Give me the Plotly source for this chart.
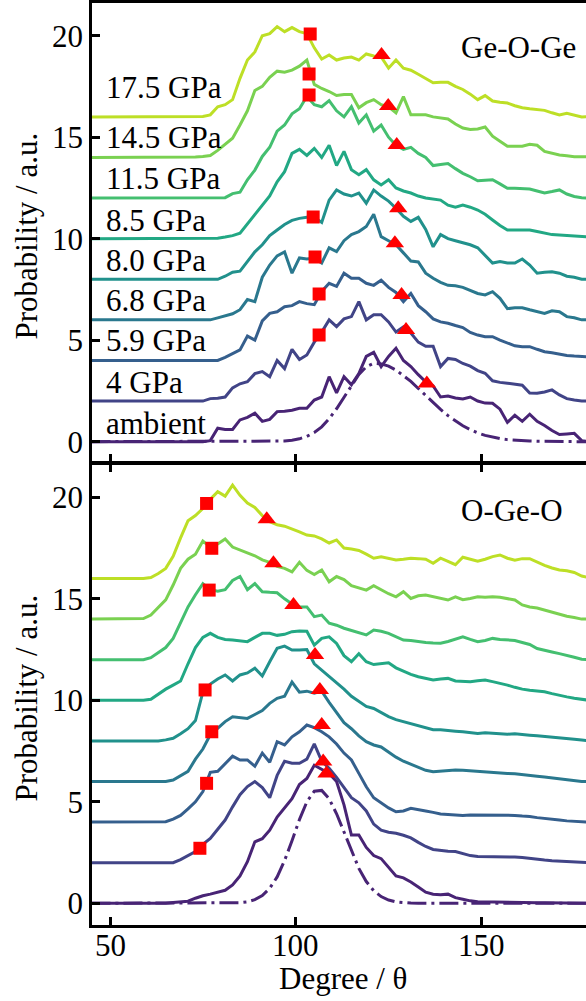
import plotly.graph_objects as go

# Bond-angle grid (degrees), shared by every distribution
angle = list(range(45, 180, 2))

pressures = ["ambient", "4 GPa", "5.9 GPa", "6.8 GPa", "8.0 GPa", "8.5 GPa",
             "11.5 GPa", "14.5 GPa", "17.5 GPa"]
offsets = [0, 2, 4, 6, 8, 10, 12, 14, 16]
colors = ["#482475", "#414487", "#355f8d", "#2a788e", "#21918c", "#22a884",
          "#44bf70", "#7ad151", "#bddf26"]
label_y = [0.87, 2.93, 4.98, 6.95, 8.92, 10.9, 12.97, 15.0, 17.45]
x_ticks = [50, 100, 150]
y_ticks = [0, 5, 10, 15, 20]

# ---- Ge-O-Ge bond-angle distributions (without vertical offset) ----
geoge_ambient = [0, 0, 0, 0, 0, 0, 0, 0, 0, 0, 0, 0, 0, 0, 0, 0,
                 0.05, 0.66, 0.6, 0.6, 1.07, 1.2, 1.4, 1.0, 1.1, 1.48, 1.5, 1.55, 1.64, 1.64,
                 2.05, 2.2, 3.2, 2.4, 3.2, 2.8, 3.35, 4.2, 4.4, 3.7, 4.2, 4.6, 4.0, 3.7, 3.3,
                 2.95, 2.75, 2.2, 2.25, 2.15, 2.1, 2.2, 2.0, 1.9, 1.89, 1.6, 0.95, 1.3, 1.0,
                 1.35, 1.0, 0.8, 0.55, 0.35, 0.38, 0.41, 0.05, 0.0]
geoge_4 = [0, 0, 0, 0, 0, 0, 0, 0, 0, 0, 0, 0, 0, 0, 0,
           0.0, 0.12, 0.14, 0.2, 0.65, 0.85, 0.95, 1.35, 1.45, 1.2,
           2.0, 1.6, 2.55, 2.05, 2.27, 2.9, 3.4, 4.0, 3.67, 4.05,
           4.16, 4.9, 4.0, 4.25, 4.25, 3.9, 3.4, 3.65, 3.35, 2.9,
           2.7, 2.7, 1.7, 2.1, 2.05, 1.85, 1.72, 1.5, 1.37, 1.0,
           0.92, 0.88, 0.82, 0.78, 0.4, 0.38, 0.45, 0.55, 0.3, 0.12,
           0.05, 0.0, 0.0]
geoge_59 = [0, 0, 0, 0, 0, 0, 0, 0, 0, 0, 0, 0, 0, 0, 0, 0, 0, 0,
            0.15, 0.35, 0.52, 1.2, 1.0, 1.95, 2.32, 2.4, 2.65, 2.7,
            2.9, 2.8, 2.75, 3.4, 3.8, 3.65, 4.3, 4.05, 4.05, 3.8,
            3.7, 3.95, 3.6, 3.35, 2.9, 3.3, 2.7, 2.4, 2.05, 1.9,
            1.83, 1.72, 1.62, 1.38, 1.25, 1.17, 1.17, 1.0, 0.85, 0.72,
            0.68, 0.68, 0.55, 0.43, 0.38, 0.3, 0.25, 0.22, 0.19, 0.18]
geoge_68 = [0, 0, 0, 0, 0, 0, 0, 0, 0, 0, 0, 0, 0, 0, 0, 0, 0,
            0.1, 0.2, 0.3, 0.5, 1.0, 0.9, 2.1, 2.7, 3.15, 3.35,
            2.3, 3.05, 3.0, 3.05, 2.8, 3.55, 3.36, 3.9, 4.2, 4.35,
            4.6, 5.2, 4.1, 3.9, 3.7, 3.3, 2.9, 2.85, 2.3, 2.05,
            1.85, 1.7, 1.68, 1.6, 1.45, 1.3, 1.23, 1.39, 1.06, 0.55,
            0.6, 0.6, 0.5, 0.4, 0.32, 0.45, 0.4, 0.16, 0.1, 0.0,
            0.0]
geoge_80 = [0, 0, 0, 0, 0, 0, 0, 0, 0, 0, 0, 0, 0, 0, 0, 0, 0, 0,
            0.15, 0.35, 0.4, 0.85, 1.35, 1.7, 2.15, 2.43, 2.7, 2.9,
            3.0, 3.05, 3.05, 2.8, 3.9, 4.4, 4.2, 4.1, 4.25, 3.75,
            4.4, 4.1, 3.85, 3.5, 3.1, 2.85, 3.05, 2.45, 1.6, 2.2,
            2.0, 1.9, 1.8, 1.7, 1.55, 1.2, 0.8, 0.87, 0.8, 0.8,
            1.0, 0.7, 0.3, 0.35, 0.37, 0.3, 0.15, 0.1, 0.0, 0.0]
geoge_85 = [0, 0, 0, 0, 0, 0, 0, 0, 0, 0, 0, 0, 0, 0, 0, 0, 0,
            0.02, 0.08, 0.15, 0.27, 0.72, 1.2, 1.65, 2.1, 2.8, 3.3,
            4.2, 4.4, 4.1, 4.45, 4.0, 4.6, 3.6, 4.3, 3.4, 3.15,
            3.4, 2.9, 2.65, 2.9, 2.5, 2.35, 2.25, 2.1, 2.0, 1.95,
            1.9, 1.65, 1.55, 1.65, 1.55, 1.41, 1.2, 0.92, 0.65, 0.43,
            0.43, 0.43, 0.43, 0.35, 0.27, 0.2, 0.18, 0.15, 0.12, 0.1,
            0.08]
geoge_115 = [0, 0, 0, 0, 0, 0, 0, 0, 0, 0, 0, 0, 0, 0, 0, 0, 0,
             0.0, 0.02, 0.22, 0.29, 0.9, 1.38, 2.05, 2.5, 3.3, 3.6,
             4.15, 4.4, 5.0, 4.6, 4.5, 4.8, 4.3, 4.0, 4.5, 3.7,
             4.1, 3.3, 3.6, 3.0, 2.6, 2.4, 2.5, 2.2, 2.0, 1.6,
             1.65, 1.7, 1.45, 1.22, 1.05, 0.85, 0.88, 0.9, 0.7, 0.48,
             0.48, 0.48, 0.45, 0.35, 0.25, 0.32, 0.4, 0.2, 0.08, 0.02,
             0.0]
geoge_145 = [0, 0, 0, 0, 0, 0, 0, 0, 0, 0, 0, 0, 0, 0,
             0.02, 0.05, 0.1, 0.35, 0.65, 0.95, 1.6, 2.3, 3.3, 3.5,
             3.95, 4.25, 4.2, 4.3, 4.5, 4.8, 3.6, 3.4, 3.25, 3.05,
             3.1, 3.1, 2.45, 2.7, 2.85, 2.6, 2.5, 2.2, 3.0, 2.1,
             2.1, 2.1, 2.0, 1.95, 1.9, 1.65, 1.45, 1.38, 1.4, 1.5,
             1.05, 0.8, 0.55, 0.55, 0.55, 0.65, 0.6, 0.3, 0.2, 0.12,
             0.08, 0.04, 0.04, 0.03]
geoge_175 = [0, 0, 0, 0, 0, 0, 0, 0, 0, 0, 0, 0, 0, 0, 0,
             0.02, 0.1, 0.5, 0.6, 0.85, 1.9, 2.8, 3.2, 4.0, 4.1,
             4.45, 4.2, 4.4, 4.2, 4.1, 3.4, 2.85, 3.05, 2.8, 2.9,
             2.95, 2.8, 3.1, 3.0, 2.95, 2.4, 2.8, 2.4, 2.3, 2.1,
             1.9, 1.68, 1.7, 1.7, 1.5, 1.35, 1.12, 0.85, 1.05, 0.78,
             0.72, 0.68, 0.55, 0.45, 0.4, 0.36, 0.32, 0.2, 0.1, 0.18,
             0.1, 0.0, 0.02]
# fitted profile of the ambient Ge-O-Ge distribution
geoge_fit = [0, 0, 0, 0, 0, 0, 0, 0, 0, 0, 0, 0, 0, 0, 0, 0, 0, 0, 0, 0, 0, 0, 0, 0,
             0.01, 0.015, 0.03, 0.07, 0.14, 0.26, 0.45, 0.73, 1.13, 1.62,
             2.19, 2.78, 3.31, 3.69, 3.86, 3.83, 3.72, 3.53, 3.27, 2.97,
             2.62, 2.27, 1.92, 1.59, 1.28, 1.01, 0.78, 0.59, 0.43, 0.31,
             0.22, 0.15, 0.1, 0.07, 0.04, 0.03, 0.02, 0.01, 0.01, 0.0,
             0.0, 0.0, 0.0, 0.0]

# ---- O-Ge-O bond-angle distributions (without vertical offset) ----
ogeo_ambient = [0, 0, 0, 0, 0, 0, 0, 0, 0, 0, 0,
                0.04, 0.06, 0.1, 0.25, 0.37, 0.45, 0.55, 0.64, 0.9, 1.35,
                2.05, 3.03, 3.18, 3.6, 4.25, 4.7, 5.15, 5.85, 6.15, 6.8,
                6.6, 6.4, 6.0, 4.85, 3.36, 3.36, 2.75, 2.35, 2.2, 1.8,
                1.35, 1.25, 1.05, 0.8, 0.55, 0.45, 0.42, 0.45, 0.28, 0.2,
                0.12, 0.08, 0.07, 0.06, 0.05, 0.06, 0.05, 0.04, 0.04, 0.03,
                0.03, 0.02, 0.02, 0.01, 0.01, 0.0, 0.0]
ogeo_4 = [0, 0, 0, 0, 0, 0, 0, 0, 0, 0, 0, 0,
          0.15, 0.35, 0.55, 0.9, 1.2, 1.65, 2.1, 2.75, 3.35, 3.75,
          4.0, 3.7, 3.2, 4.3, 5.0, 4.9, 4.9, 5.1, 5.85, 5.0,
          4.65, 4.2, 3.7, 3.2, 2.95, 2.55, 1.9, 1.6, 1.5, 1.45,
          1.35, 1.22, 1.0, 0.8, 0.65, 0.6, 0.56, 0.55, 0.45, 0.35,
          0.3, 0.3, 0.3, 0.3, 0.3, 0.28, 0.25, 0.2, 0.16, 0.13,
          0.1, 0.08, 0.05, 0.02, 0.0, 0.0]
ogeo_59 = [0, 0, 0, 0, 0, 0, 0, 0, 0, 0,
           0.02, 0.15, 0.33, 0.65, 1.0, 1.5, 2.45, 2.5, 2.9, 3.25,
           3.06, 3.06, 2.75, 3.4, 2.95, 3.96, 3.8, 4.2, 4.45, 4.78,
           4.65, 4.45, 4.2, 3.85, 3.4, 3.06, 2.4, 1.74, 1.2, 0.93,
           0.7, 0.51, 0.55, 0.68, 0.6, 0.55, 0.48, 0.4, 0.38, 0.35,
           0.33, 0.35, 0.35, 0.36, 0.35, 0.35, 0.35, 0.33, 0.3, 0.28,
           0.22, 0.19, 0.15, 0.1, 0.06, 0.03, 0.0, 0.0]
ogeo_68 = [0, 0, 0, 0, 0, 0, 0, 0, 0, 0, 0,
           0.07, 0.3, 0.5, 1.1, 1.6, 2.3, 2.65, 2.95, 3.19, 3.15,
           3.11, 3.3, 3.5, 3.85, 4.1, 4.2, 4.9, 4.4, 4.45, 4.35,
           4.45, 3.9, 3.4, 2.9, 2.6, 2.25, 1.96, 1.8, 1.7, 1.45,
           1.2, 1.0, 0.85, 0.7, 0.55, 0.48, 0.52, 0.55, 0.57, 0.55,
           0.52, 0.5, 0.48, 0.45, 0.42, 0.4, 0.38, 0.33, 0.3, 0.26,
           0.22, 0.18, 0.14, 0.1, 0.05, 0.0, 0.0]
ogeo_80 = [0, 0, 0, 0, 0, 0, 0, 0, 0, 0,
           0.05, 0.13, 0.35, 0.6, 1.0, 2.4, 2.8, 3.05, 3.25, 2.95,
           3.25, 3.35, 3.58, 3.2, 3.9, 4.56, 4.67, 4.48, 4.48, 4.5,
           3.8, 3.49, 3.16, 2.85, 2.55, 2.2, 1.95, 1.7, 1.6, 1.4,
           1.2, 1.05, 0.95, 0.85, 0.78, 0.65, 0.55, 0.55, 0.5, 0.48,
           0.45, 0.42, 0.37, 0.4, 0.38, 0.35, 0.33, 0.35, 0.3, 0.28,
           0.25, 0.22, 0.2, 0.15, 0.12, 0.08, 0.04, 0.0]
ogeo_85 = [0, 0, 0, 0, 0, 0, 0, 0,
           0.05, 0.3, 0.55, 0.75, 0.95, 1.8, 2.6, 3.1, 3.3, 3.1,
           3.0, 2.97, 2.92, 2.89, 3.1, 3.3, 3.3, 3.2, 3.25, 3.38,
           3.42, 3.4, 2.72, 3.05, 3.13, 2.8, 2.2, 1.9, 2.3, 1.9,
           1.76, 1.82, 1.85, 1.6, 1.42, 1.28, 1.16, 1.08, 1.0, 1.05,
           1.08, 0.95, 0.92, 0.92, 0.96, 1.0, 0.92, 0.84, 0.75, 0.64,
           0.55, 0.5, 0.45, 0.42, 0.33, 0.24, 0.17, 0.1, 0.03, 0.0]
ogeo_115 = [0, 0, 0, 0, 0, 0, 0, 0,
            0.1, 0.35, 0.6, 1.05, 1.8, 2.6, 3.2, 3.75, 3.45, 3.38,
            3.45, 3.9, 4.1, 3.45, 3.75, 3.35, 3.32, 3.3, 3.0, 2.75,
            2.6, 2.6, 2.12, 2.2, 1.8, 1.7, 1.55, 1.45, 1.35, 1.22,
            1.46, 1.4, 1.3, 1.15, 0.97, 0.95, 0.89, 0.85, 0.82, 0.81,
            0.9, 1.0, 1.13, 1.0, 0.89, 0.95, 1.05, 1.0, 0.98, 0.95,
            0.85, 0.75, 0.55, 0.45, 0.38, 0.3, 0.22, 0.12, 0.02, 0.0]
ogeo_145 = [0, 0, 0, 0, 0, 0, 0,
            0.03, 0.2, 0.55, 0.95, 1.68, 2.5, 2.95, 3.2, 3.85, 3.55,
            3.7, 3.95, 3.55, 3.4, 3.25, 3.12, 2.92, 2.8, 2.6, 2.5,
            2.33, 2.8, 2.4, 2.2, 2.42, 1.84, 2.1, 1.95, 1.65, 1.55,
            1.43, 1.65, 1.45, 1.25, 1.1, 1.35, 1.02, 1.15, 1.19, 1.1,
            1.0, 0.94, 1.1, 0.96, 1.02, 1.1, 1.08, 1.1, 1.08, 1.0,
            0.94, 0.7, 0.6, 0.55, 0.45, 0.32, 0.25, 0.14, 0.08, 0.0,
            0.0]
ogeo_175 = [0, 0, 0, 0, 0, 0, 0, 0,
            0.05, 0.25, 0.5, 1.1, 2.0, 2.85, 3.1, 3.45, 3.9, 4.28,
            4.06, 4.6, 4.1, 3.72, 3.5, 3.1, 2.8, 2.65, 2.58, 2.45,
            2.3, 2.14, 2.1, 1.95, 1.75, 1.9, 1.5, 1.45, 1.38, 1.2,
            1.0, 1.07, 1.0, 0.91, 0.95, 1.0, 0.98, 0.95, 0.75, 1.0,
            0.85, 0.68, 1.05, 0.95, 0.85, 0.95, 1.08, 1.16, 1.0, 0.9,
            0.98, 0.98, 0.8, 0.65, 0.52, 0.42, 0.38, 0.3, 0.12, 0.05]
# fitted profile of the ambient O-Ge-O distribution
ogeo_fit = [0, 0, 0, 0, 0, 0, 0, 0, 0, 0, 0, 0, 0, 0, 0, 0, 0, 0, 0, 0,
            0.03, 0.07, 0.18, 0.38, 0.74, 1.3, 2.1, 3.08, 4.12, 5.0,
            5.52, 5.56, 5.15, 4.41, 3.49, 2.55, 1.72, 1.07, 0.62, 0.33,
            0.16, 0.07, 0.03, 0.01,
            0, 0, 0, 0, 0, 0, 0, 0, 0, 0, 0, 0, 0, 0, 0, 0, 0, 0, 0, 0, 0, 0, 0, 0]

# Peak-position markers (already on the offset scale)
geoge_sq_x = [103.9, 103.6, 103.6, 104.7, 105.2, 106.3, 106.3]
geoge_sq_y = [20.08, 18.11, 17.08, 11.07, 9.1, 7.27, 5.25]
geoge_tri_x = [123.1, 124.9, 127.2, 127.6, 126.7, 128.5, 129.7, 135.3]
geoge_tri_y = [19.05, 16.54, 14.62, 11.5, 9.77, 7.23, 5.5, 2.87]
ogeo_sq_x = [76.0, 77.4, 76.7, 75.6, 77.4, 76.0, 74.2]
ogeo_sq_y = [19.7, 17.49, 15.43, 10.51, 8.45, 5.91, 2.71]
ogeo_tri_x = [92.2, 94.0, 99.4, 105.2, 106.5, 107.0, 107.4, 108.3]
ogeo_tri_y = [18.92, 16.75, 14.7, 12.23, 10.51, 8.78, 6.98, 6.4]

geoge = [geoge_ambient, geoge_4, geoge_59, geoge_68, geoge_80, geoge_85,
         geoge_115, geoge_145, geoge_175]
ogeo = [ogeo_ambient, ogeo_4, ogeo_59, ogeo_68, ogeo_80, ogeo_85,
        ogeo_115, ogeo_145, ogeo_175]
for series in geoge + ogeo + [geoge_fit, ogeo_fit]:
    if len(series) != len(angle):
        raise ValueError(f"series length {len(series)} != {len(angle)}")

FONT = "Liberation Serif, Times New Roman, serif"
FS = 31

fig = go.Figure()


def add_panel(dists, fit, xa, ya):
    for i, d in enumerate(dists):
        fig.add_trace(go.Scatter(
            x=angle, y=[v + offsets[i] for v in d], mode="lines",
            line=dict(color=colors[i], width=3), xaxis=xa, yaxis=ya,
            showlegend=False, hoverinfo="skip"))
        if i == 0:
            fig.add_trace(go.Scatter(
                x=angle, y=fit, mode="lines",
                line=dict(color=colors[0], width=3, dash="19px,5px,3px,5px"),
                xaxis=xa, yaxis=ya, showlegend=False, hoverinfo="skip"))


def add_markers(sx, sy, tx, ty, xa, ya):
    fig.add_trace(go.Scatter(x=sx, y=sy, mode="markers", xaxis=xa, yaxis=ya,
                             marker=dict(symbol="square", size=13, color="#ff0000"),
                             showlegend=False, hoverinfo="skip"))
    fig.add_trace(go.Scatter(x=tx, y=ty, mode="markers", xaxis=xa, yaxis=ya,
                             marker=dict(symbol="triangle-up", size=16, color="#ff0000"),
                             showlegend=False, hoverinfo="skip"))


add_panel(geoge, geoge_fit, "x", "y")
add_panel(ogeo, ogeo_fit, "x2", "y2")
add_markers(geoge_sq_x, geoge_sq_y, geoge_tri_x, geoge_tri_y, "x", "y")
add_markers(ogeo_sq_x, ogeo_sq_y, ogeo_tri_x, ogeo_tri_y, "x2", "y2")

axis_style = dict(showline=True, linecolor="black", linewidth=2.5,
                  ticks="inside", ticklen=8, tickwidth=2.5, tickcolor="black",
                  showgrid=False, zeroline=False,
                  tickfont=dict(family=FONT, size=FS, color="black"))
xrange = [45.15, 178.16]
# the two panels leave a 2.5 px strip so their shared border lines coincide
top_domain = [0.50244, 1]
bottom_domain = [0, 0.49973]

fig.update_layout(
    width=586, height=1001,
    margin=dict(l=92, r=0, t=3, b=76),
    paper_bgcolor="white", plot_bgcolor="white",
    font=dict(family=FONT, size=FS, color="black"),
    xaxis=dict(domain=[0, 1], anchor="y", range=xrange, tickvals=x_ticks,
               showticklabels=False, mirror=True, **axis_style),
    yaxis=dict(domain=top_domain, anchor="x", range=[-0.99, 21.61],
               tickvals=y_ticks, **axis_style),
    xaxis2=dict(domain=[0, 1], anchor="y2", range=xrange, tickvals=x_ticks,
                showticklabels=False, mirror="ticks", **axis_style),
    yaxis2=dict(domain=bottom_domain, anchor="x2", range=[-1.07, 21.63],
                tickvals=y_ticks, **axis_style),
)

text_font = dict(family=FONT, size=FS, color="black")
annotations = []
for name, ly in zip(pressures, label_y):
    annotations.append(dict(x=48.5, y=ly, xref="x", yref="y", text=name,
                            showarrow=False, xanchor="left", yanchor="middle",
                            font=text_font))
annotations.append(dict(x=144.0, y=19.44, xref="x", yref="y", text="Ge-O-Ge",
                        showarrow=False, xanchor="left", yanchor="middle",
                        font=text_font))
annotations.append(dict(x=144.0, y=19.33, xref="x2", yref="y2", text="O-Ge-O",
                        showarrow=False, xanchor="left", yanchor="middle",
                        font=text_font))
# bottom x tick labels, set just under the axis line
for t in x_ticks:
    annotations.append(dict(x=t, y=-0.0225, xref="x2", yref="paper", text=str(t),
                            showarrow=False, xanchor="center", yanchor="middle",
                            font=text_font))
for yc in (0.7468, 0.2457):
    annotations.append(dict(x=-0.1336, y=yc, xref="paper", yref="paper",
                            text="Probability / a.u.", textangle=-90,
                            showarrow=False, xanchor="center", yanchor="middle",
                            font=text_font))
annotations.append(dict(x=0.508, y=-0.0585, xref="paper", yref="paper",
                        text="Degree / θ", showarrow=False,
                        xanchor="center", yanchor="middle",
                        font=text_font))
fig.update_layout(annotations=annotations)

fig.write_html("out.html")
